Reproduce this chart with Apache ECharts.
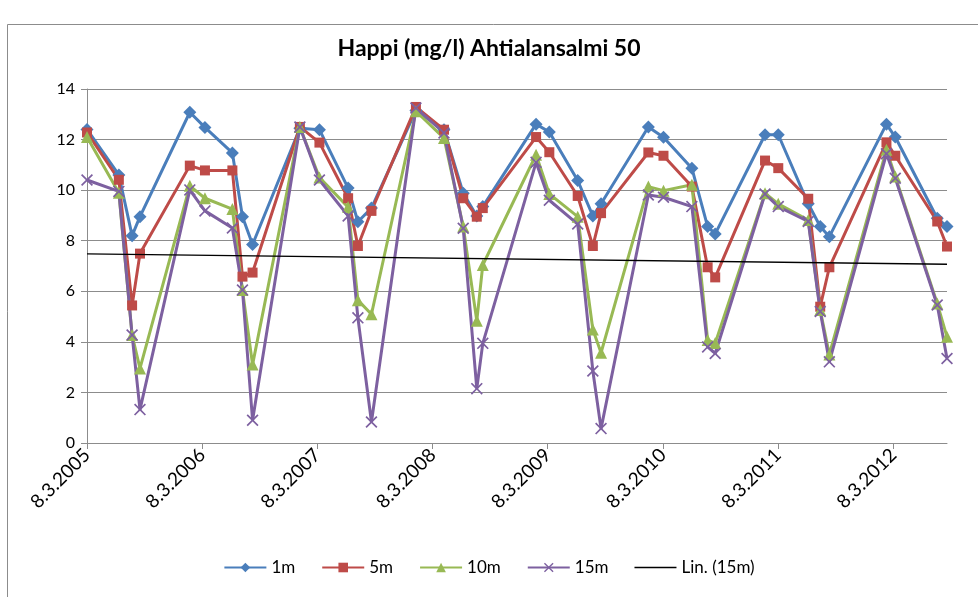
<!DOCTYPE html>
<html><head><meta charset="utf-8">
<script src="https://cdn.jsdelivr.net/npm/echarts@6/dist/echarts.min.js"></script>
<style>html,body{margin:0;padding:0;background:#fff}#c{width:978px;height:597px}</style>
</head><body><div id="c"></div>
<script>
const dates = ['2005-03-08','2005-06-17','2005-07-29','2005-08-23',
  '2006-01-28','2006-03-17','2006-06-12','2006-07-14','2006-08-15',
  '2007-01-12','2007-03-15','2007-06-14','2007-07-15','2007-08-27',
  '2008-01-15','2008-04-13','2008-06-13','2008-07-26','2008-08-14',
  '2009-01-30','2009-03-13','2009-06-11','2009-07-29','2009-08-24',
  '2010-01-21','2010-03-10','2010-06-08','2010-07-28','2010-08-21',
  '2011-01-26','2011-03-09','2011-06-12','2011-07-20','2011-08-18',
  '2012-02-15','2012-03-14','2012-07-25','2012-08-25'];
const m1 = [12.4,10.6,8.2,8.95, 13.08,12.48,11.47,8.95,7.85, 12.45,12.39,10.08,8.75,9.29,
  13.15,12.39,9.88,8.98,9.35, 12.61,12.3,10.38,8.98,9.46, 12.5,12.09,10.87,8.56,8.27,
  12.19,12.19,9.46,8.56,8.16, 12.61,12.1,8.89,8.56];
const m5 = [12.28,10.41,5.44,7.49, 10.97,10.78,10.78,6.58,6.74, 12.5,11.88,9.68,7.79,9.18,
  13.29,12.39,9.68,8.95,9.29, 12.1,11.5,9.77,7.79,9.09, 11.49,11.36,10.14,6.95,6.55,
  11.17,10.87,9.66,5.39,6.95, 11.89,11.36,8.76,7.77];
const m10 = [12.1,9.9,4.27,2.95, 10.17,9.68,9.25,6.05,3.1, 12.5,10.5,9.33,5.65,5.09,
  13.12,12.06,8.56,4.83,7.04, 11.4,9.85,8.95,4.49,3.57, 10.14,9.98,10.21,4.07,3.95,
  9.88,9.46,8.82,5.26,3.5, 11.6,10.54,5.52,4.2];
const m15 = [10.4,9.95,4.27,1.32, 10.01,9.18,8.5,6.05,0.9, 12.5,10.4,8.98,4.95,0.83,
  13.25,12.26,8.49,2.15,3.94, 11.1,9.6,8.66,2.85,0.57, 9.81,9.72,9.35,3.8,3.54,
  9.85,9.35,8.76,5.2,3.21, 11.44,10.47,5.46,3.34];
const trendDates = ['2005-03-08','2012-08-25'];
const trend15 = [7.48, 7.07];
const tickDates = ['2005-03-08','2006-03-08','2007-03-08','2008-03-08','2009-03-08','2010-03-08','2011-03-08','2012-03-08'];
const tickLabels = ['8.3.2005','8.3.2006','8.3.2007','8.3.2008','8.3.2009','8.3.2010','8.3.2011','8.3.2012'];
const yTicks = ['0','2','4','6','8','10','12','14'];

const ts = d => Date.parse(d + 'T00:00:00Z');
const tickVals = tickDates.map(ts);
const pair = arr => dates.map((d, i) => [ts(d), arr[i]]);
const FONT = 'Lato';
const grid = '#8c8c8c';
const xPath = 'path://M1,0 L5,4 L9,0 L10,1 L6,5 L10,9 L9,10 L5,6 L1,10 L0,9 L4,5 L0,1 Z';
const linePath = 'path://M0,0 L40,0 L40,1.6 L0,1.6 Z';

function ser(name, data, color, symbol, size) {
  return { name, type: 'line', data: pair(data), symbol, symbolSize: size,
    lineStyle: { color, width: 3 }, itemStyle: { color },
    emphasis: { disabled: true }, animation: false, z: 3 };
}

const chart = echarts.init(document.getElementById('c'), null, { renderer: 'canvas' });
chart.setOption({
  backgroundColor: '#fff',
  animation: false,
  graphic: [{ type: 'rect', shape: { x: 7.5, y: 24.5, width: 1000, height: 700 },
    style: { fill: 'none', stroke: '#8c8c8c', lineWidth: 1 }, silent: true, z: -1 }],
  title: { text: 'Happi (mg/l) Ahtialansalmi 50', left: 'center', top: 32,
    textStyle: { fontFamily: FONT, fontWeight: 'bold', fontSize: 23, color: '#000' } },
  grid: { left: 87, right: 31, top: 89, bottom: 154 },
  xAxis: { type: 'value', min: ts(dates[0]), max: ts(dates[dates.length - 1]),
    axisLine: { show: true, lineStyle: { color: grid, width: 1 } },
    axisTick: { show: true, length: 6, lineStyle: { color: grid }, customValues: tickVals },
    axisLabel: { customValues: tickVals, rotate: 45, margin: 9, fontFamily: FONT, fontSize: 19, color: '#000',
      formatter: v => { const i = tickVals.indexOf(v); return i >= 0 ? tickLabels[i] : ''; } },
    splitLine: { show: false } },
  yAxis: { type: 'value', min: 0, max: 14, interval: 2,
    axisLine: { show: true, lineStyle: { color: grid, width: 1 } },
    axisTick: { show: true, length: 6, lineStyle: { color: grid } },
    axisLabel: { fontFamily: FONT, fontSize: 16, color: '#000', margin: 12,
      formatter: v => yTicks[Math.round(v / 2)] },
    splitLine: { show: true, lineStyle: { color: grid, width: 1.2 } } },
  legend: { bottom: 16, left: 'center', itemWidth: 42, itemHeight: 12, itemGap: 26,
    textStyle: { fontFamily: FONT, fontSize: 17, color: '#000' },
    data: ['1m', '5m', '10m', '15m', { name: 'Lin. (15m)', icon: linePath }] },
  series: [
    ser('1m', m1, '#4a7ebb', 'diamond', 13),
    ser('5m', m5, '#be4b48', 'rect', 10),
    ser('10m', m10, '#98b954', 'triangle', 12),
    ser('15m', m15, '#7d60a0', xPath, 12),
    { name: 'Lin. (15m)', type: 'line', data: trendDates.map((d, i) => [ts(d), trend15[i]]),
      symbol: 'none', lineStyle: { color: '#000', width: 1.4 }, itemStyle: { color: '#000' },
      z: 4, animation: false }
  ]
});
</script>
</body></html>
